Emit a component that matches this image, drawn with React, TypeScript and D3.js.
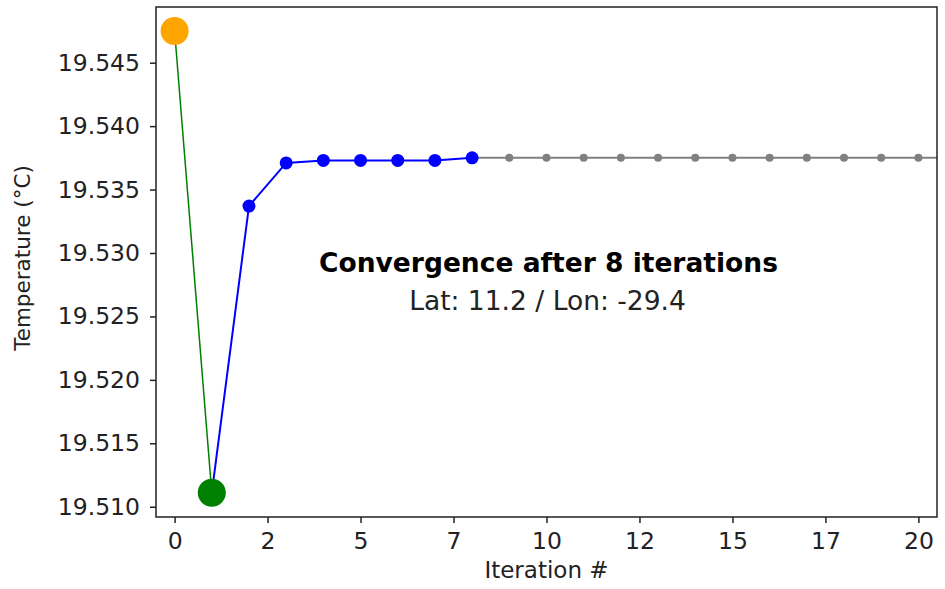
import React, { useEffect, useRef } from 'react';
import * as d3 from 'd3';

// iteration 0 = first guess, 1 = first correction
const startIter = [0, 1];
const startTemps = [19.5475, 19.5111];

// iterations until convergence
const convIters = [1, 2, 3, 4, 5, 6, 7, 8];
const convTemps = [19.5111, 19.5337, 19.5371, 19.5373, 19.5373, 19.5373, 19.5373, 19.5375];

// after convergence (line runs off the right edge)
const afterIters = [8, 9, 10, 11, 12, 13, 14, 15, 16, 17, 18, 19, 20, 21];
const afterTemps = [19.5375, 19.5375, 19.5375, 19.5375, 19.5375, 19.5375, 19.5375, 19.5375, 19.5375, 19.5375, 19.5375, 19.5375, 19.5375, 19.5375];

const xTickValues = [0, 2.5, 5, 7.5, 10, 12.5, 15, 17.5, 20];
const xTickLabels = ['0', '2', '5', '7', '10', '12', '15', '17', '20'];
const yTickValues = [19.51, 19.515, 19.52, 19.525, 19.53, 19.535, 19.54, 19.545];

const title = 'Convergence after 8 iterations';
const subtitle = 'Lat: 11.2 / Lon: -29.4';

const Chart = ({ width = 945, height = 589 }) => {
  const ref = useRef(null);

  useEffect(() => {
    const margin = { top: 7, left: 156, bottom: 72, right: 8 };
    const iwidth = width - margin.left - margin.right;
    const iheight = height - margin.top - margin.bottom;
    const font = 'DejaVu Sans, sans-serif';
    const ink = '#222';

    const svg = d3.select(ref.current);
    svg.selectAll('*').remove();
    svg.attr('width', width).attr('height', height);

    const g = svg.append('g').attr('transform', `translate(${margin.left},${margin.top})`);

    const x = d3.scaleLinear().domain([-0.5, 20.5]).range([0, iwidth]);
    const y = d3.scaleLinear().domain([19.50919, 19.54939]).range([iheight, 0]);

    svg.append('defs').append('clipPath').attr('id', 'plotclip')
      .append('rect').attr('width', iwidth).attr('height', iheight);

    const plot = g.append('g').attr('clip-path', 'url(#plotclip)');

    const line = d3.line().x(d => x(d[0])).y(d => y(d[1]));
    const pairs = (xs, ys) => xs.map((v, i) => [v, ys[i]]);

    // gray continuation
    const after = pairs(afterIters, afterTemps);
    plot.append('path').attr('d', line(after)).attr('fill', 'none')
      .attr('stroke', 'gray').attr('stroke-width', 2);
    plot.selectAll('.gdot').data(after.slice(1)).enter().append('circle')
      .attr('cx', d => x(d[0])).attr('cy', d => y(d[1])).attr('r', 4).attr('fill', 'gray');

    // green first step
    const start = pairs(startIter, startTemps);
    plot.append('path').attr('d', line(start)).attr('fill', 'none')
      .attr('stroke', 'green').attr('stroke-width', 1.5);

    // blue convergence
    const conv = pairs(convIters, convTemps);
    plot.append('path').attr('d', line(conv)).attr('fill', 'none')
      .attr('stroke', 'blue').attr('stroke-width', 2);
    plot.selectAll('.bdot').data(conv.slice(1)).enter().append('circle')
      .attr('cx', d => x(d[0])).attr('cy', d => y(d[1])).attr('r', 6.5).attr('fill', 'blue');

    plot.append('circle').attr('cx', x(start[0][0])).attr('cy', y(start[0][1]))
      .attr('r', 14).attr('fill', 'orange');
    plot.append('circle').attr('cx', x(start[1][0])).attr('cy', y(start[1][1]))
      .attr('r', 14).attr('fill', 'green');

    // axes
    const xAxis = g.append('g').attr('transform', `translate(0,${iheight})`)
      .call(d3.axisBottom(x).tickValues(xTickValues)
        .tickFormat((d, i) => xTickLabels[i]).tickSize(6).tickPadding(9));
    const yAxis = g.append('g')
      .call(d3.axisLeft(y).tickValues(yTickValues)
        .tickFormat(d3.format('.3f')).tickSize(6).tickPadding(10));
    [xAxis, yAxis].forEach(a => {
      a.select('.domain').remove();
      a.selectAll('line').attr('stroke', ink).attr('stroke-width', 1.5);
      a.selectAll('text').attr('fill', ink).style('font-family', font).style('font-size', '23.5px');
    });

    g.append('rect').attr('width', iwidth).attr('height', iheight)
      .attr('fill', 'none').attr('stroke', ink).attr('stroke-width', 1.5);

    g.append('text').attr('x', iwidth / 2).attr('y', iheight + 61)
      .attr('text-anchor', 'middle').attr('fill', ink)
      .style('font-family', font).style('font-size', '23px').text('Iteration #');

    g.append('text').attr('transform', `translate(${-126},${iheight / 2 - 4}) rotate(-90)`)
      .attr('text-anchor', 'middle').attr('fill', ink)
      .style('font-family', font).style('font-size', '21.5px').text('Temperature (°C)');

    g.append('text').attr('x', iwidth / 2 + 2).attr('y', 265)
      .attr('text-anchor', 'middle').attr('fill', '#000')
      .style('font-family', font).style('font-size', '26.5px').style('font-weight', 'bold').text(title);
    g.append('text').attr('x', iwidth / 2 + 1).attr('y', 303)
      .attr('text-anchor', 'middle').attr('fill', ink)
      .style('font-family', font).style('font-size', '26.5px').text(subtitle);
  }, [width, height]);

  return <svg ref={ref} style={{ position: 'absolute', left: 0, top: 0 }}></svg>;
};

export default function App() {
  return <Chart />;
}
